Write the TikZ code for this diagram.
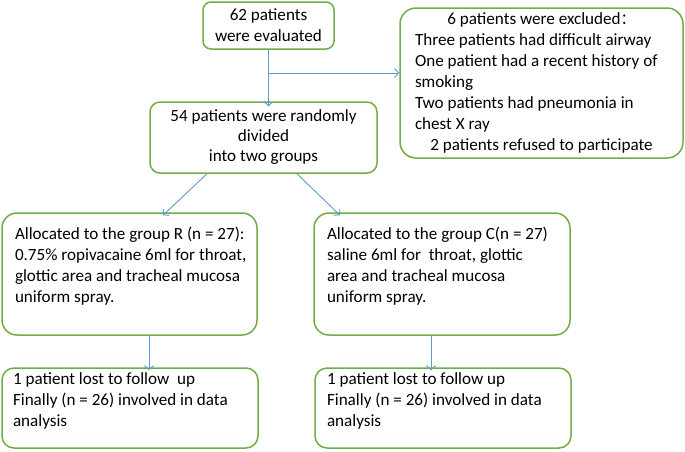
\documentclass[tikz,border=0pt]{standalone}
\usepackage{fontspec}
\setmainfont{Carlito}
\newfontfamily\cjk{Noto Sans CJK SC}
\usetikzlibrary{arrows.meta}
\definecolor{boxgreen}{RGB}{112,173,71}
\definecolor{arrowblue}{RGB}{91,155,213}
\tikzset{
  flowbox/.style={draw=boxgreen, line width=1.5pt, rounded corners=12pt, inner sep=0pt, fill=white},
  flowarrow/.style={draw=arrowblue, line width=0.9pt, -{Straight Barb[length=4pt,width=9pt]}},
}
\newcommand\boxtxt[4]{\begin{minipage}[c][#1][t]{#2}\vspace*{#3}\begin{tabular}[t]{@{}l@{}}#4\end{tabular}\end{minipage}}
\begin{document}
\begin{tikzpicture}[x=1pt,y=-1pt,font=\fontsize{17.1}{21}\selectfont]
\useasboundingbox (0,0) rectangle (685,451);
\node[flowbox, rounded corners=8pt, minimum width=131pt, minimum height=47pt, align=center] (eval) at (268.5,25.5) {62 patients\\were evaluated};
\node[flowbox, rounded corners=16pt, minimum width=283pt, minimum height=150pt, inner xsep=15pt] (excl) at (541.5,83)
  {\begin{minipage}{253pt}\raggedright
   \makebox[\linewidth]{6 patients were excluded{\cjk\fontsize{15}{21}\selectfont ：}}\\
   Three patients had difficult airway\\
   One patient had a recent history of\\
   smoking\\
   Two patients had pneumonia in\\
   chest X ray\\
   \makebox[\linewidth]{2 patients refused to participate}
   \end{minipage}};
\node[flowbox, rounded corners=10pt, minimum width=227pt, minimum height=71pt, align=center] (rand) at (263.5,137.5) {54 patients were randomly\\[-1pt]divided\\[-1pt]into two groups};
\node[flowbox, rounded corners=15pt, inner xsep=13pt] (grpR) at (129.5,274)
  {\boxtxt{122pt}{229pt}{12pt}{Allocated to the group R (n = 27):\\0.75\% ropivacaine 6ml for throat,\\glottic area and tracheal mucosa\\uniform spray.}};
\node[flowbox, rounded corners=15pt, inner xsep=13pt] (grpC) at (442,274)
  {\boxtxt{122pt}{230pt}{12pt}{Allocated to the group C(n = 27)\\saline 6ml for\ \ throat, glottic\\area and tracheal mucosa\\uniform spray.}};
\node[flowbox, rounded corners=12pt, inner xsep=11pt] (lossR) at (130,408)
  {\boxtxt{80pt}{234pt}{2pt}{1 patient lost to follow\ \ up\\Finally (n = 26) involved in data\\analysis}};
\node[flowbox, rounded corners=12pt, inner xsep=12pt] (lossC) at (443,408)
  {\boxtxt{80pt}{232pt}{2pt}{1 patient lost to follow up\\Finally (n = 26) involved in data\\analysis}};
% connectors
\draw[flowarrow] (eval.south) -- ([yshift=-5pt]eval.south |- rand.north);
\coordinate (split) at (eval.south |- 0,73);
\draw[flowarrow] (split) -- (split -| excl.west);
\draw[flowarrow] ([xshift=-56.5pt]rand.south) -- ([xshift=33.5pt,yshift=-3pt]grpR.north);
\draw[flowarrow] ([xshift=33.5pt]rand.south) -- ([xshift=-102pt,yshift=-3pt]grpC.north);
\coordinate (downR) at ([xshift=19.5pt]grpR.south);
\draw[flowarrow] (downR) -- ([yshift=-3pt]downR |- lossR.north);
\coordinate (downC) at ([xshift=-11pt]grpC.south);
\draw[flowarrow] (downC) -- ([yshift=-3pt]downC |- lossC.north);
\end{tikzpicture}
\end{document}
